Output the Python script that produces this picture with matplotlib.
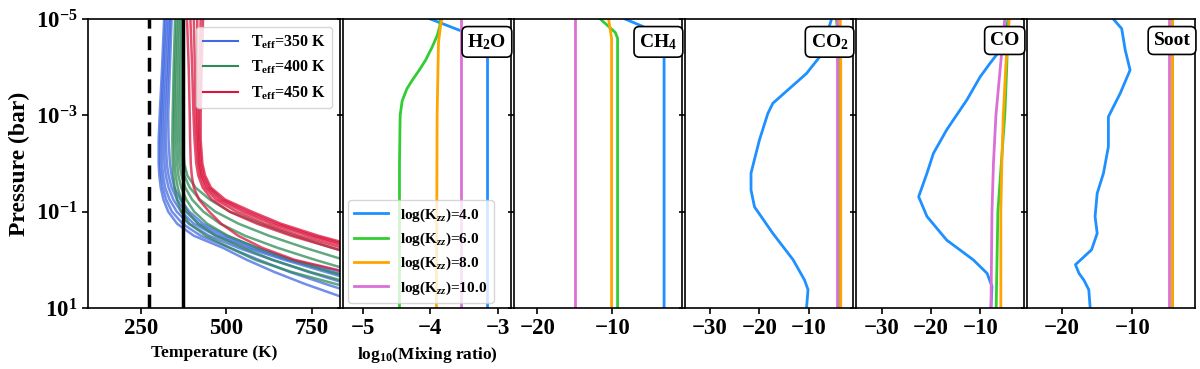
import numpy as np
import matplotlib
matplotlib.use('Agg')
import matplotlib.pyplot as plt

plt.rcParams['font.family'] = 'serif'
plt.rcParams['font.serif'] = ['Liberation Serif', 'DejaVu Serif']
plt.rcParams['font.weight'] = 'bold'
plt.rcParams['axes.labelweight'] = 'bold'
plt.rcParams['mathtext.fontset'] = 'custom'
plt.rcParams['mathtext.rm'] = 'Liberation Serif:bold'
plt.rcParams['mathtext.it'] = 'Liberation Serif:bold:italic'
plt.rcParams['mathtext.bf'] = 'Liberation Serif:bold'

# --- temperature profiles (log10 P grid, temperatures in K) ---
logp_T = [-5, -4, -3, -2.5, -2, -1.75, -1.5, -1.25, -1, -0.75, -0.5, -0.25, 0, 0.25, 0.5, 0.75, 1]

T_350 = [
    [318, 312, 305, 302, 302, 304, 308, 316, 330, 356, 405, 490, 560, 640, 730, 830, 940],
    [322, 316, 309, 306, 306, 309, 314, 324, 341, 372, 425, 510, 595, 685, 790, 900, 1010],
    [327, 320, 313, 311, 312, 315, 321, 334, 355, 390, 450, 535, 635, 740, 855, 970, 1080],
    [332, 326, 318, 317, 319, 323, 331, 345, 368, 405, 470, 560, 670, 790, 910, 1030, 1150],
    [336, 330, 324, 323, 326, 331, 340, 356, 381, 420, 485, 575, 680, 810, 950, 1080, 1200],
    [340, 335, 330, 331, 335, 340, 348, 366, 392, 432, 500, 590, 690, 840, 980, 1120, 1250],
]
T_400 = [
    [350, 346, 343, 342, 343, 345, 349, 356, 368, 392, 440, 510, 585, 690, 820, 960, 1100],
    [355, 350, 347, 347, 349, 352, 358, 368, 386, 417, 470, 548, 635, 745, 875, 1010, 1150],
    [360, 355, 352, 353, 356, 360, 368, 383, 406, 444, 505, 590, 690, 805, 935, 1070, 1200],
    [365, 361, 358, 359, 363, 369, 380, 400, 433, 482, 555, 650, 760, 880, 1010, 1150, 1300],
    [370, 366, 364, 365, 370, 377, 393, 423, 468, 536, 625, 730, 845, 970, 1100, 1250, 1400],
    [375, 372, 370, 371, 377, 386, 410, 452, 510, 600, 700, 810, 920, 1050, 1180, 1320, 1460],
]
T_450 = [
    [385, 390, 393, 394, 396, 399, 405, 420, 450, 485, 535, 605, 700, 850, 990, 1130, 1270],
    [395, 400, 404, 407, 412, 418, 431, 458, 510, 590, 690, 810, 940, 1070, 1200, 1340, 1480],
    [405, 408, 410, 413, 418, 424, 438, 470, 530, 612, 715, 840, 970, 1100, 1230, 1370, 1510],
    [415, 415, 415, 417, 421, 428, 444, 480, 548, 632, 740, 865, 1000, 1130, 1260, 1400, 1540],
    [425, 422, 420, 421, 426, 433, 450, 489, 562, 648, 756, 885, 1020, 1150, 1280, 1420, 1560],
    [432, 428, 425, 425, 430, 438, 455, 497, 575, 660, 770, 900, 1040, 1170, 1300, 1440, 1580],
]
teff_labels = ['350', '400', '450']
teff_colors = ['royalblue', 'seagreen', 'crimson']
T_freeze = 273
T_boil = 373

# --- mixing ratio profiles: (log10 mixing ratio, log10 P) per Kzz ---
kzz_labels = ['4.0', '6.0', '8.0', '10.0']
kzz_colors = ['#1E90FF', '#32CD32', '#FFA500', '#DA70D6']

h2o_x = [[-3.15, -3.15, -3.5, -4.0],
         [-4.46, -4.46, -4.45, -4.42, -4.35, -4.26, -4.16, -4.07, -3.98, -3.9, -3.86, -3.85],
         [-3.91, -3.9, -3.88, -3.85, -3.83],
         [-3.54, -3.54]]
h2o_p = [[1, -4.3, -4.73, -5],
         [1, -2, -3, -3.3, -3.55, -3.75, -3.95, -4.15, -4.4, -4.65, -4.85, -5],
         [1, -3, -4.5, -4.85, -5],
         [1, -5]]

ch4_x = [[-3.1, -3.1, -6.0, -8.3],
         [-9.3, -9.3, -9.6, -11.6],
         [-10.1, -10.1, -10.3, -10.5],
         [-15.0, -15.0]]
ch4_p = [[1, -4.6, -4.85, -5],
         [1, -4.6, -4.72, -5],
         [1, -4.6, -4.8, -5],
         [1, -5]]

co2_x = [[-10.5, -10.2, -10.9, -13.2, -17.3, -21.0, -21.7, -21.7, -20.0, -18.3, -17.3,
          -13.9, -10.5, -7.8, -5.45],
         [-3.8, -3.8, -4.0, -4.5],
         [-3.6, -3.6, -3.7],
         [-4.3, -4.3]]
co2_p = [[1, 0.62, 0.42, 0.0, -0.55, -1.1, -1.45, -1.8, -2.49, -3.04, -3.25,
          -3.56, -3.87, -4.22, -5],
         [1, -4.0, -4.6, -5],
         [1, -4.5, -5],
         [1, -5]]

co_x = [[-7.8, -7.6, -8.6, -11.4, -16.8, -20.8, -22.5, -20.8, -19.5, -16.8, -12.7,
         -10.0, -8.0, -5.9, -4.25],
        [-6.75, -6.4, -5.7, -5.0, -4.6, -4.3],
        [-5.8, -5.8, -5.6, -5.3, -4.8, -4.1],
        [-7.8, -7.6, -7.3, -6.8, -5.9, -5.0]]
co_p = [[1, 0.55, 0.28, 0.0, -0.41, -0.9, -1.31, -1.8, -2.21, -2.7, -3.32,
         -3.8, -4.08, -4.36, -5],
        [1, -1, -2, -3, -4, -5],
        [1, -1, -2, -3, -4, -5],
        [1, -1, -2, -3, -4, -5]]

soot_x = [[-16.0, -16.2, -16.9, -17.6, -18.1, -15.8, -15.0, -15.3, -15.0, -14.1, -13.4,
           -13.4, -11.7, -10.3, -11.0, -11.5, -12.7],
          [-4.3, -4.3],
          [-4.3, -4.3],
          [-4.8, -4.8]]
soot_p = [[1, 0.62, 0.42, 0.28, 0.1, -0.21, -0.55, -0.9, -1.38, -1.8, -2.35,
           -2.97, -3.46, -3.94, -4.36, -4.8, -5],
          [1, -5],
          [1, -5],
          [1, -5]]

species = ['H$_2$O', 'CH$_4$', 'CO$_2$', 'CO', 'Soot']
chem_x = [h2o_x, ch4_x, co2_x, co_x, soot_x]
chem_p = [h2o_p, ch4_p, co2_p, co_p, soot_p]
chem_xlim = [(-5.3, -2.8), (-23.1, -0.7), (-35.0, -1.1), (-35.2, -1.06), (-25.0, -1.0)]
chem_xticks = [[-5, -4, -3], [-20, -10], [-30, -20, -10], [-30, -20, -10], [-20, -10]]

# --- figure ---
fig, axes = plt.subplots(1, 6, figsize=(12, 3.69), dpi=100, sharey=True,
                         gridspec_kw={'width_ratios': [1.5, 1, 1, 1, 1, 1]})
fig.subplots_adjust(left=0.0733, right=0.996, top=0.9485, bottom=0.1653, wspace=0.0165)

ax = axes[0]
for group, lab, col in zip([T_350, T_400, T_450], teff_labels, teff_colors):
    for i, T in enumerate(group):
        ax.plot(T, np.power(10.0, logp_T), color=col, lw=1.8, alpha=0.75,
                solid_joinstyle='round',
                label=r'T$_{\rm eff}$=' + lab + ' K' if i == 0 else None)
ax.axvline(T_freeze, color='k', ls='--', lw=2.5, dashes=(4, 2.2), zorder=5)
ax.axvline(T_boil, color='k', ls='-', lw=2.5, zorder=5)
ax.set_xlim(95, 833)
ax.set_xticks([250, 500, 750])
ax.set_xlabel('Temperature (K)', fontsize=12.5)
ax.set_ylabel('Pressure (bar)', fontsize=17)
leg = ax.legend(loc='upper right', fontsize=11.5, borderaxespad=0.5, handlelength=2.2)
for h in leg.get_lines():
    h.set_alpha(1)
    h.set_linewidth(1.5)

for k, ax in enumerate(axes[1:]):
    for x, p, col in zip(chem_x[k], chem_p[k], kzz_colors):
        ax.plot(x, np.power(10.0, p), color=col, lw=2)
    ax.set_xlim(*chem_xlim[k])
    ax.set_xticks(chem_xticks[k])
    ax.text(0.972, 0.955, species[k], transform=ax.transAxes, ha='right', va='top',
            fontsize=14, fontweight='bold', zorder=10,
            bbox=dict(boxstyle='round,pad=0.28', fc='white', ec='k', lw=1.2))

axes[1].set_xlabel(r'log$_{10}$(Mixing ratio)', fontsize=12.5)
kzz_handles = [plt.Line2D([], [], color=c, lw=2) for c in kzz_colors]
axes[1].legend(kzz_handles, [r'log(K$_{zz}$)=' + s for s in kzz_labels],
               loc='lower left', fontsize=11, borderaxespad=0.35, handlelength=2.2,
               labelspacing=0.45)

axes[0].set_yscale('log')
axes[0].set_ylim(1e1, 1e-5)
axes[0].set_yticks([1e-5, 1e-3, 1e-1, 1e1])
axes[0].minorticks_off()
for ax in axes:
    ax.minorticks_off()
    ax.tick_params(axis='both', labelsize=16.5, length=4, width=1.2)
    for s in ax.spines.values():
        s.set_linewidth(1.2)

plt.savefig('out.png', dpi=100)
